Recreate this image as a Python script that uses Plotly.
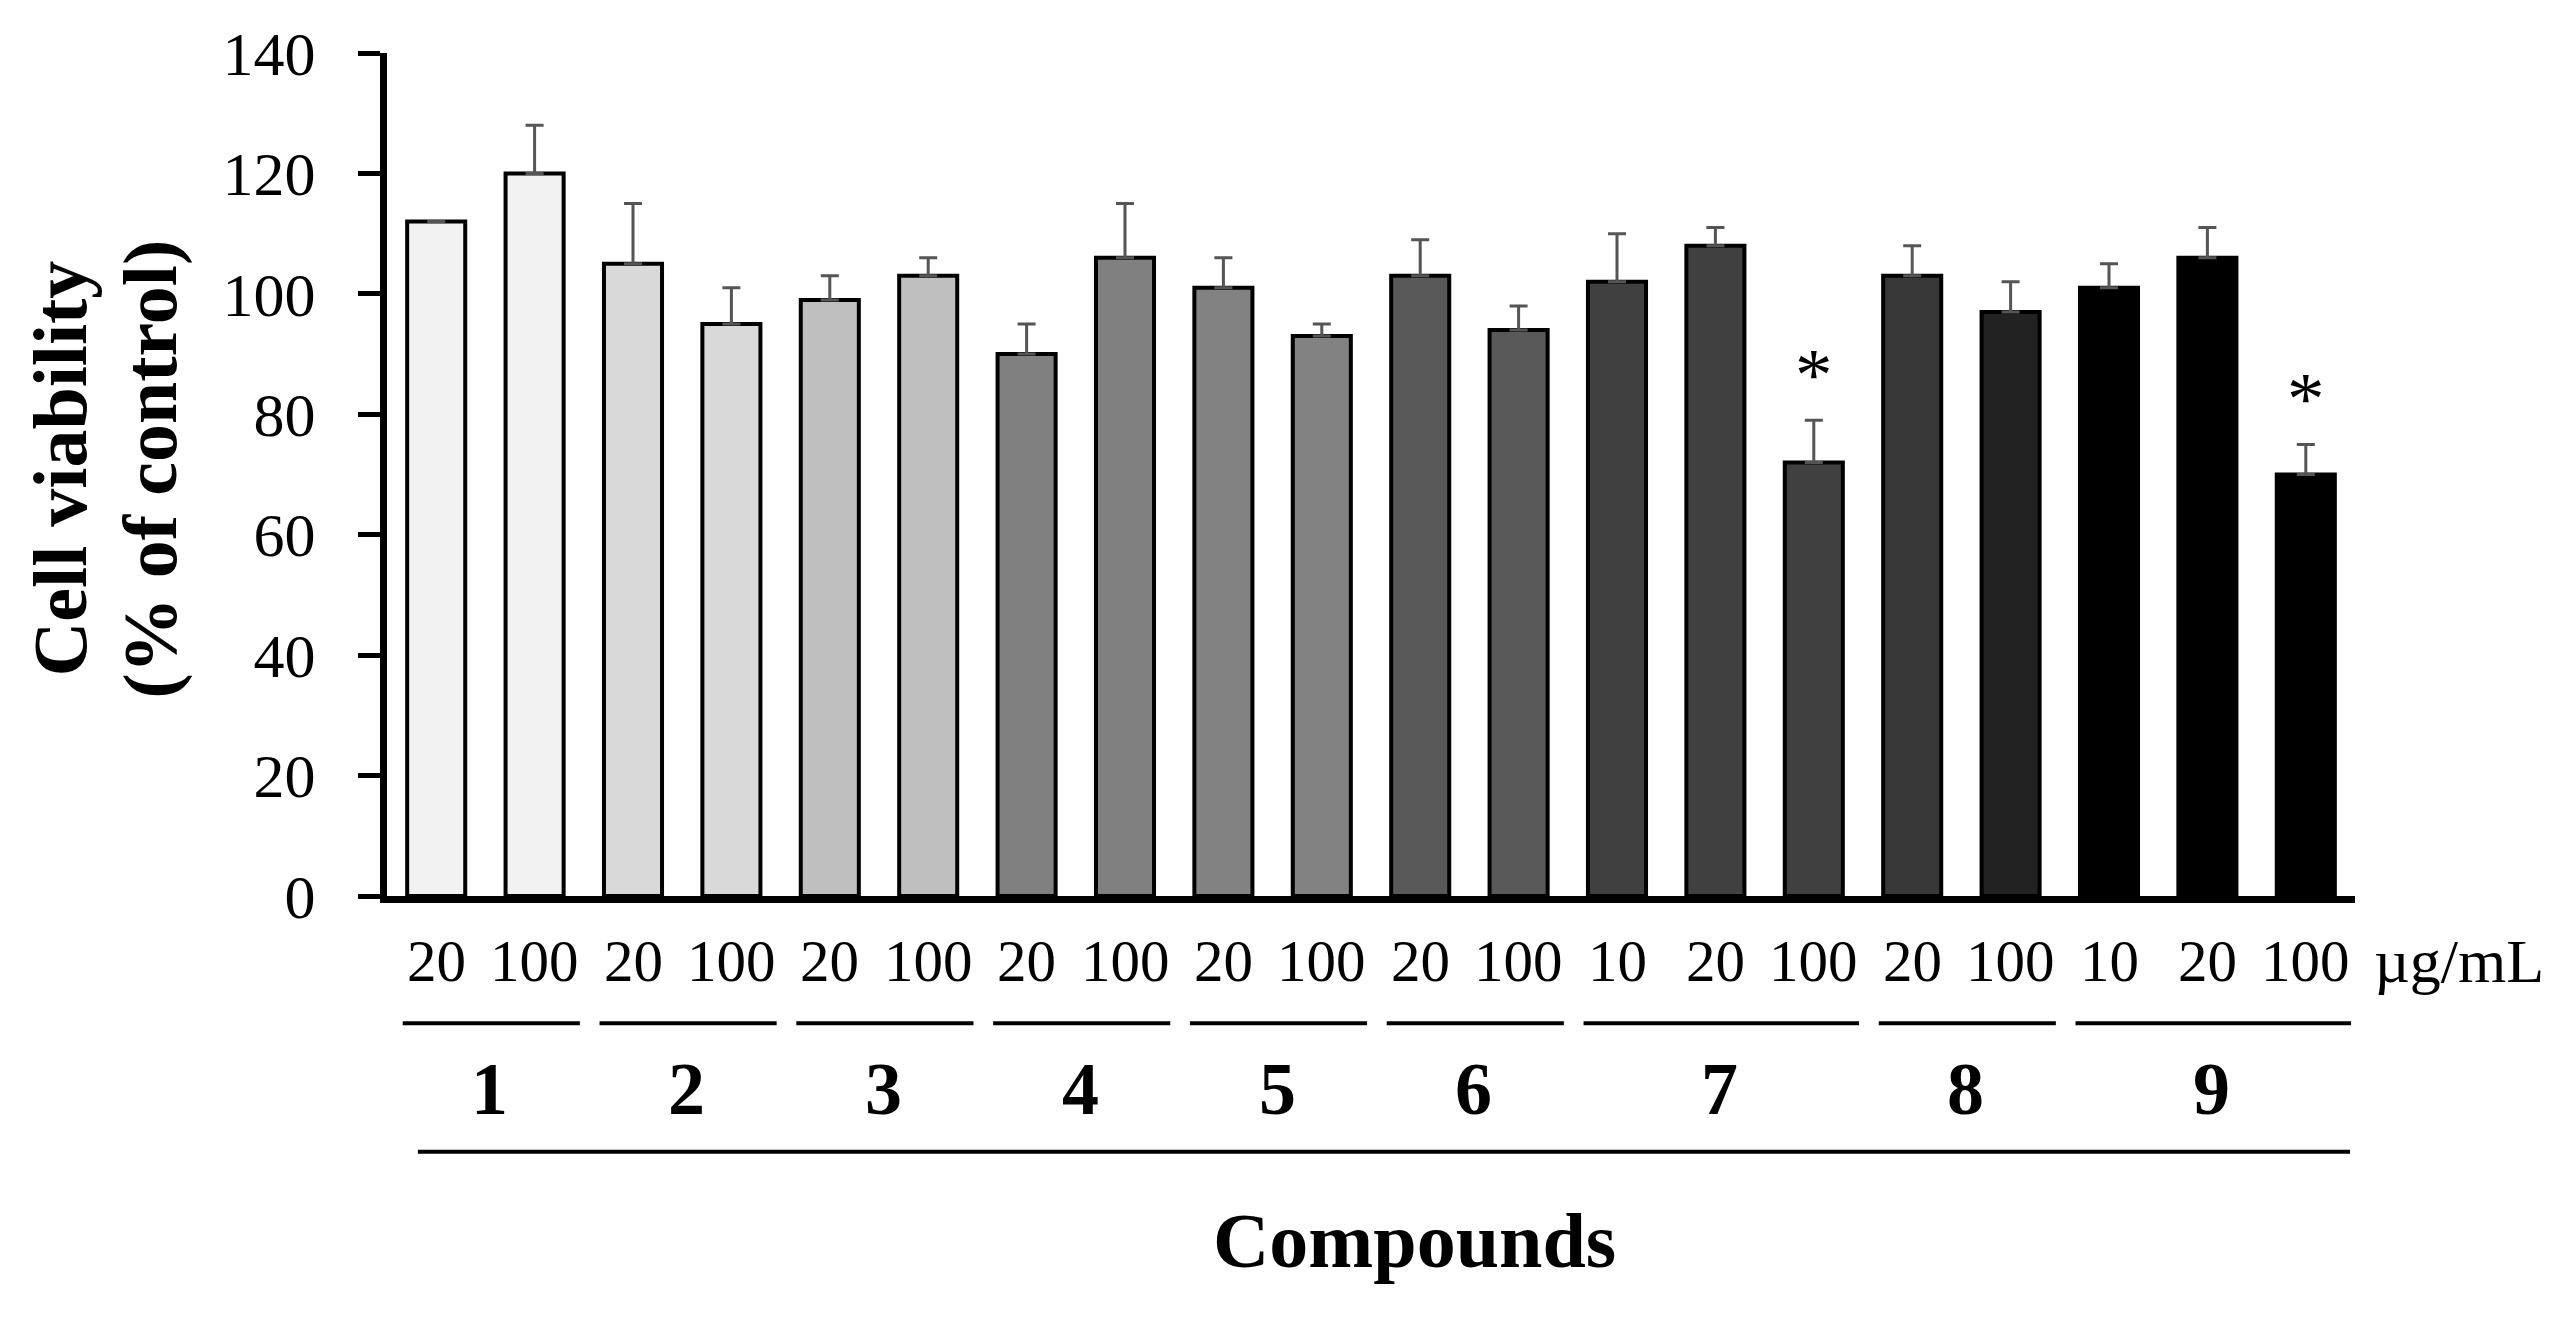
import plotly.graph_objects as go

# ---------------- data ----------------
compound_of_bar = ['1', '1', '2', '2', '3', '3', '4', '4', '5', '5', '6', '6',
                   '7', '7', '7', '8', '8', '9', '9', '9']
dose_labels = ['20', '100', '20', '100', '20', '100', '20', '100', '20', '100',
               '20', '100', '10', '20', '100', '20', '100', '10', '20', '100']
viability = [112, 120, 105, 95, 99, 103, 90, 106, 101, 93,
             103, 94, 102, 108, 72, 103, 97, 101, 106, 70]
sem = [0, 8, 10, 6, 4, 3, 5, 9, 5, 2,
       6, 4, 8, 3, 7, 5, 5, 4, 5, 5]
bar_colors = ['#f2f2f2', '#f2f2f2', '#d9d9d9', '#d9d9d9', '#bfbfbf', '#bfbfbf',
              '#808080', '#808080', '#828282', '#828282', '#595959', '#595959',
              '#404040', '#404040', '#404040', '#383838', '#222222',
              '#000000', '#000000', '#000000']
significant = [False] * 14 + [True] + [False] * 4 + [True]
compounds = ['1', '2', '3', '4', '5', '6', '7', '8', '9']
y_ticks = [0, 20, 40, 60, 80, 100, 120, 140]
unit_label = 'µg/mL'
x_title = 'Compounds'
y_title_lines = ['Cell viability', '(% of control)']

FONT = 'Liberation Serif'
idx = list(range(len(viability)))

fig = go.Figure()
fig.add_trace(go.Bar(
    x=idx, y=viability, width=0.59,
    marker=dict(color=bar_colors, line=dict(color='black', width=4)),
    error_y=dict(type='data', array=sem, arrayminus=[0] * len(sem),
                 symmetric=False, color='#555555', thickness=3, width=9),
    showlegend=False, hoverinfo='skip'))

annotations = []
shapes = []

# dose labels under each bar
for i, d in enumerate(dose_labels):
    annotations.append(dict(x=i, y=-0.0773, xref='x', yref='paper', text=d,
                            showarrow=False, xanchor='center', yanchor='middle',
                            font=dict(family=FONT, size=59, color='black')))
annotations.append(dict(x=1.0086, y=-0.0773, xref='paper', yref='paper',
                        text=unit_label, showarrow=False, xanchor='left',
                        yanchor='middle',
                        font=dict(family=FONT, size=62, color='black')))

# compound group lines & numbers
for c in compounds:
    members = [i for i, cb in enumerate(compound_of_bar) if cb == c]
    first, last = members[0], members[-1]
    shapes.append(dict(type='line', xref='x', yref='paper',
                       x0=first - 0.34, x1=last + 0.46, y0=-0.151, y1=-0.151,
                       line=dict(color='black', width=4)))
    annotations.append(dict(x=(first + last) / 2 + 0.045, y=-0.2295, xref='x',
                            yref='paper', text='<b>%s</b>' % c, showarrow=False,
                            xanchor='center', yanchor='middle',
                            font=dict(family=FONT, size=74, color='black')))

# long line above axis title
shapes.append(dict(type='line', xref='paper', yref='paper', x0=0.0157, x1=0.9975,
                   y0=-0.3033, y1=-0.3033, line=dict(color='black', width=4)))

annotations.append(dict(x=0.522, y=-0.4087, xref='paper', yref='paper',
                        text='<b>%s</b>' % x_title, showarrow=False,
                        xanchor='center', yanchor='middle',
                        font=dict(family=FONT, size=78, color='black')))

# y title (two lines)
for xpos, line in zip([-0.1662, -0.1200], y_title_lines):
    annotations.append(dict(x=xpos, y=0.507, xref='paper', yref='paper',
                            text='<b>%s</b>' % line, showarrow=False,
                            textangle=-90, xanchor='center', yanchor='middle',
                            font=dict(family=FONT, size=76, color='black')))

# significance asterisks
for i, s in enumerate(significant):
    if s:
        annotations.append(dict(x=i, y=viability[i] + sem[i], xref='x', yref='y',
                                text='*', showarrow=False, xanchor='center',
                                yanchor='middle', yshift=46,
                                font=dict(family=FONT, size=75, color='black')))

fig.update_layout(
    width=2564, height=1317,
    margin=dict(l=379, r=217, t=34, b=429),
    paper_bgcolor='white', plot_bgcolor='white',
    font=dict(family=FONT, color='black'),
    xaxis=dict(range=[-0.5, 19.5], showgrid=False, zeroline=False,
               showticklabels=False, ticks='', showline=True,
               linecolor='black', linewidth=7),
    yaxis=dict(range=[0, 140], tickvals=y_ticks, showgrid=False, zeroline=False,
               ticks='outside', ticklen=22, tickwidth=5, tickcolor='black',
               showline=True, linecolor='black', linewidth=7,
               tickfont=dict(family=FONT, size=62, color='black'),
               ticklabelstandoff=30, ticklabeloverflow='allow'),
    annotations=annotations,
    shapes=shapes,
)

fig.write_html('out.html')
